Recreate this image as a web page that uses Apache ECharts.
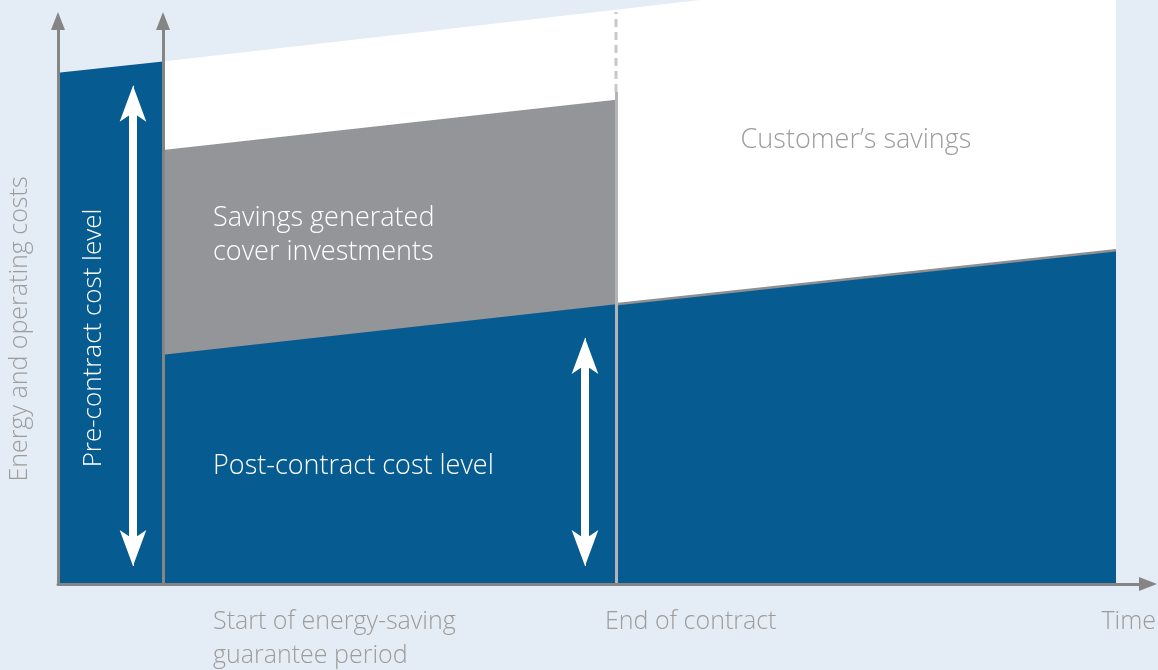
<!DOCTYPE html>
<html>
<head>
<meta charset="utf-8">
<script src="https://cdn.jsdelivr.net/npm/echarts@6/dist/echarts.min.js"></script>
<style>
  html, body { margin: 0; padding: 0; background: #e4edf5; }
  #chart { width: 1158px; height: 670px; }
</style>
</head>
<body>
<div id="chart"></div>
<script>
  // time points: origin, start of guarantee, end of contract, end of chart
  var timePoints = [0, 10.5, 55.8, 105.8]
  // cost levels (0-100 scale)
  var preContract = [90.8, 92.8]              // before the contract starts
  var preProjected = [92.8, 102.0, 112.3]     // pre-contract level carried forward
  var coveredTop = [77.1, 86.0]               // savings that cover the investment
  var postContract = [40.7, 49.7, 59.3]       // cost level after the works
  // double arrows: tip-to-tip and the shaft between the heads
  var arrowX = [7.5, 52.7]
  var preArrow = [3.2, 88.5]
  var preShaft = [7.1, 84.5]
  var postArrow = [3.2, 43.7]
  var postShaft = [7.1, 39.8]
  var contractLine = [0, 87.4, 101.6]         // solid up to the grey area, dashed above

  var blue = '#065b90'
  var grey = '#939598'
  var textGrey = '#9c9c9c'
  var axisGrey = '#858585'
  var font = '"Open Sans", Lato, sans-serif'

  function pts(xs, ys) {
    return ys.map(function (y, i) { return [xs[i], y] })
  }

  var chart = echarts.init(document.getElementById('chart'))

  var axisLine = {
    show: true,
    symbol: ['none', 'triangle'],
    symbolSize: [14, 18],
    lineStyle: { color: axisGrey, width: 3 }
  }

  function valueAxis(extra) {
    return Object.assign({
      type: 'value',
      min: 0,
      z: 10,
      axisLine: axisLine,
      axisTick: { show: false },
      axisLabel: { show: false },
      splitLine: { show: false }
    }, extra)
  }

  function area(name, data, color) {
    return {
      name: name,
      type: 'line',
      data: data,
      symbol: 'none',
      clip: false,
      silent: true,
      lineStyle: { width: 0 },
      areaStyle: { color: color, opacity: 1 }
    }
  }

  // empty series that only carries a markLine
  function guide(name, lines, symbol, lineStyle) {
    return {
      name: name,
      type: 'line',
      data: [],
      markLine: {
        silent: true,
        symbol: symbol,
        symbolSize: [20, 36],
        label: { show: false },
        lineStyle: lineStyle,
        data: lines
      }
    }
  }

  function vline(x, ys) {
    return [{ coord: [x, ys[0]] }, { coord: [x, ys[1]] }]
  }

  function text(x, y, str, color, size, extra) {
    var el = {
      type: 'text', x: x, y: y, z: 100,
      style: { text: str, fill: color, font: '300 ' + size + 'px ' + font, textVerticalAlign: 'middle' }
    }
    if (extra) {
      if (extra.rotation) el.rotation = extra.rotation
      if (extra.align) el.style.textAlign = extra.align
    }
    return el
  }

  chart.setOption({
    backgroundColor: '#e4edf5',
    animation: false,
    grid: { left: 58, right: 10, top: 21, bottom: 86 },
    xAxis: valueAxis({ max: 109 }),
    yAxis: [
      valueAxis({ max: 100 }),
      // second axis at the start of the guarantee period
      valueAxis({ max: 100, position: 'left', offset: -105 })
    ],
    series: [
      area('Customer savings', pts(timePoints.slice(1), preProjected), '#ffffff'),
      area('Savings cover investments', pts(timePoints.slice(1, 3), coveredTop), grey),
      area('Post-contract', pts(timePoints.slice(1), postContract), blue),
      area('Pre-contract', pts(timePoints.slice(0, 2), preContract), blue),
      {
        name: 'edge',
        type: 'line',
        data: pts(timePoints.slice(2), postContract.slice(1)),
        symbol: 'none',
        silent: true,
        lineStyle: { color: '#8d8f92', width: 2.5 }
      },
      {
        // end of contract, dashed part reaches above the axis range
        name: 'contract end dashed',
        type: 'line',
        data: [[timePoints[2], contractLine[1]], [timePoints[2], contractLine[2]]],
        symbol: 'none',
        clip: false,
        silent: true,
        lineStyle: { color: '#c8c8c8', width: 3, type: [8, 5] }
      },
      guide('contract end', [vline(timePoints[2], contractLine)],
        'none', { color: '#b4b4b4', width: 3, type: 'solid' }),
      guide('shafts', [vline(arrowX[0], preShaft), vline(arrowX[1], postShaft)],
        'none', { color: '#ffffff', width: 8, type: 'solid' }),
      guide('arrow heads', [vline(arrowX[0], preArrow), vline(arrowX[1], postArrow)],
        ['arrow', 'arrow'], { color: '#ffffff', width: 1, type: 'solid' })
    ],
    graphic: [
      text(20, 329, 'Energy and operating costs', textGrey, 25, { rotation: Math.PI / 2, align: 'center' }),
      text(94, 338, 'Pre-contract cost level', '#ffffff', 26, { rotation: Math.PI / 2, align: 'center' }),
      text(213, 218, 'Savings generated', '#ffffff', 27),
      text(213, 252, 'cover investments', '#ffffff', 27),
      text(856, 140, 'Customer’s savings', textGrey, 27, { align: 'center' }),
      text(213, 466, 'Post-contract cost level', '#ffffff', 27),
      text(213, 622, 'Start of energy-saving', textGrey, 25),
      text(213, 656, 'guarantee period', textGrey, 25),
      text(605, 622, 'End of contract', textGrey, 25),
      text(1156, 622, 'Time', textGrey, 25, { align: 'right' })
    ]
  })
</script>
</body>
</html>
